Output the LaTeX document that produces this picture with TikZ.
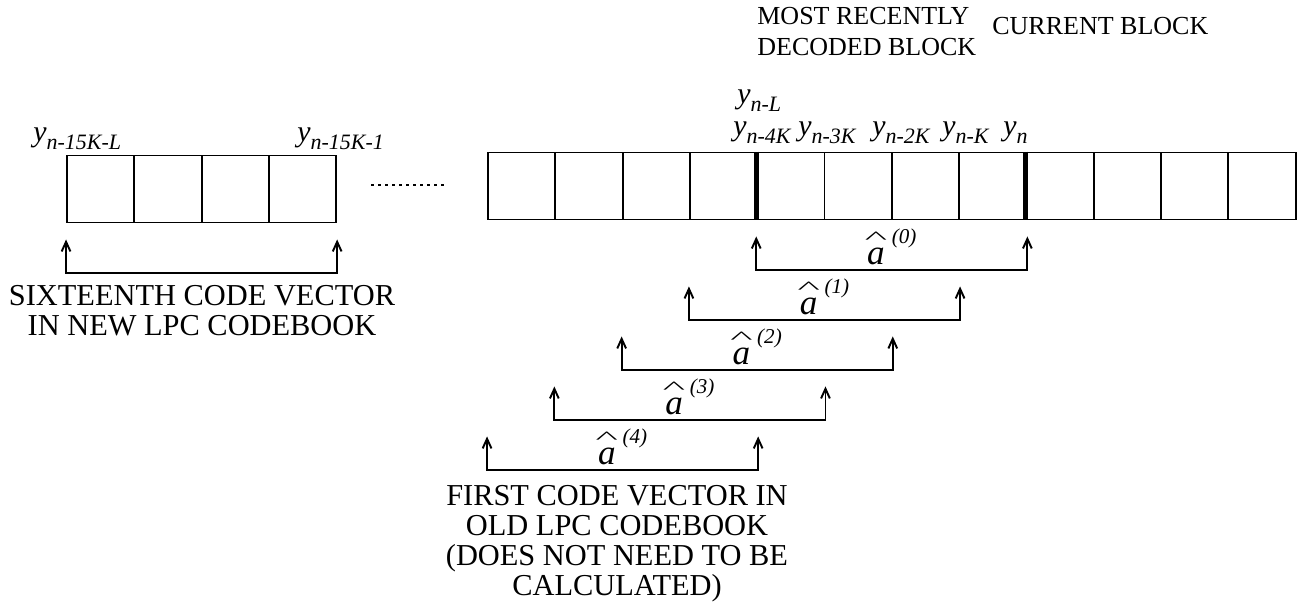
\documentclass[tikz,border=0pt]{standalone}
\usepackage{fontspec}
\setmainfont{Liberation Serif}
\usepackage{graphicx}
\usepackage{tikz}
\usetikzlibrary{arrows.meta,positioning}

% predictor label: hat over a, with the index raised
\newcommand{\ahat}[1]{\textit{\rlap{\makebox[0.5em]{\textup{\raisebox{0.6em}{\scalebox{1.35}[0.5]{\textasciicircum}}}}}a}\kern0.2em\raisebox{0.6em}{\fontsize{12}{12}\selectfont\textit{(#1)}}}
% sample label y with a lowered index
\newcommand{\ysub}[1]{\textit{y}\raisebox{-0.3em}{\fontsize{12.5}{12.5}\selectfont\textit{#1}}}

\begin{document}
\begin{tikzpicture}[x=0.02cm,y=-0.02cm,
    cell/.style={draw, line width=1.1pt, minimum width=1.346cm, minimum height=1.34cm, inner sep=0pt},
    divider/.style={line width=2.6pt},
    bracket/.style={line width=1.1pt, {Straight Barb[length=5.5pt,width=5pt]}-{Straight Barb[length=5.5pt,width=5pt]}},
    ylbl/.style={inner sep=0pt, anchor=base west, font=\fontsize{17}{20}\selectfont},
    captext/.style={inner sep=0pt, align=center, anchor=north, font=\fontsize{17.3}{17}\selectfont},
    blocklbl/.style={inner sep=0pt, align=left, anchor=north west, font=\fontsize{14.8}{17.6}\selectfont},
    hatlbl/.style={inner sep=0pt, above=0.1cm, font=\fontsize{20}{24}\selectfont}]

    \useasboundingbox (0,0) rectangle (1311,606);

    % old samples
    \foreach \i in {0,...,3}
        \node[cell] (l\i) at ({67+67.3*(\i+0.5)},189) {};

    % buffer up to the current block
    \foreach \i in {0,...,11}
        \node[cell] (r\i) at ({488+67.3*(\i+0.5)},186) {};

    \draw[divider] (r4.north west) -- (r4.south west);
    \draw[divider] (r8.north west) -- (r8.south west);

    \draw[line width=0.8pt, dash pattern=on 1.7pt off 2.3pt] (371,185) -- (448,185);

    % sample labels
    \node[ylbl] (yold1) at (33,141) {\ysub{n-15K-L}};
    \node[ylbl] (yold2) at (297,141) {\ysub{n-15K-1}};
    \node[ylbl] (ynl) at (737,103) {\ysub{n-L}};
    \node[ylbl] (yn4) at (733,135) {\ysub{n-4K}};
    \node[ylbl] (yn3) at (798,135) {\ysub{n-3K}};
    \node[ylbl] (yn2) at (872,135) {\ysub{n-2K}};
    \node[ylbl] (yn1) at (942,135) {\ysub{n-K}};
    \node[ylbl] (yn0) at (1003,135) {\ysub{n}};

    % block names
    \node[blocklbl] (recent) at (757,7) {MOST RECENTLY\\DECODED BLOCK};
    \node[blocklbl] (current) at (992,17) {CURRENT BLOCK};

    % code vector spans
    \draw[bracket] ([yshift=-0.32cm]l0.south west) -- ([yshift=-1cm]l0.south west)
        -- ([yshift=-1cm]l3.south east) -- ([yshift=-0.32cm]l3.south east);
    \node[captext] (newcb) at (202,285) {SIXTEENTH CODE VECTOR\\IN NEW LPC CODEBOOK};

    \foreach \k in {0,...,4}{
        \pgfmathtruncatemacro\lo{4-\k}
        \pgfmathtruncatemacro\hi{7-\k}
        \draw[bracket] ([yshift=-0.32cm-\k cm]r\lo.south west) -- ([yshift=-1cm-\k cm]r\lo.south west)
            -- node[hatlbl] (ahat\k) {\ahat{\k}} ([yshift=-1cm-\k cm]r\hi.south east)
            -- ([yshift=-0.32cm-\k cm]r\hi.south east);
    }
    \node[captext] (oldcb) at (617,485) {FIRST CODE VECTOR IN\\OLD LPC CODEBOOK\\(DOES NOT NEED TO BE\\CALCULATED)};

\end{tikzpicture}
\end{document}
